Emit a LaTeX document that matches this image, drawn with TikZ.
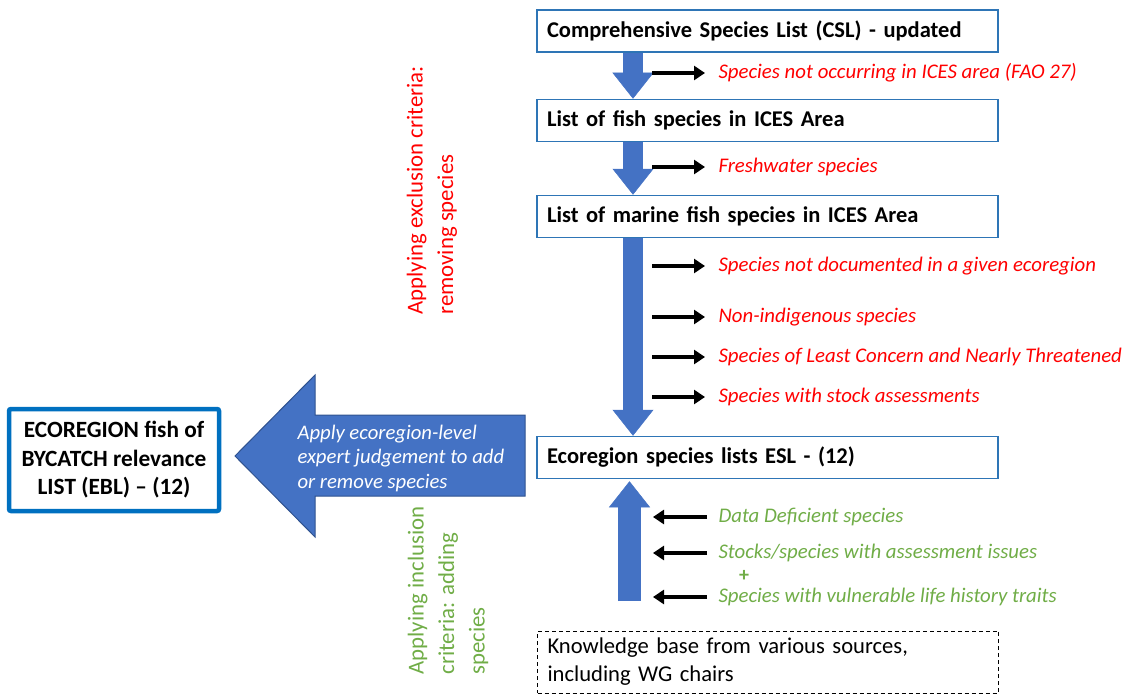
\documentclass[tikz,border=0pt]{standalone}
\usepackage{fontspec}
\setmainfont{Carlito}
\usetikzlibrary{arrows.meta,positioning}

\definecolor{boxblue}{HTML}{2E75B6}
\definecolor{eblblue}{HTML}{0070C0}
\definecolor{flowblue}{HTML}{4472C4}
\definecolor{flowdark}{HTML}{2F528F}
\definecolor{exred}{HTML}{FF0000}
\definecolor{ingreen}{HTML}{70AD47}

\tikzset{
  listbox/.style={draw=boxblue, line width=1.5pt, fill=white, text width=441pt,
    inner xsep=10pt, minimum height=42pt, align=left,
    font=\fontsize{22.5}{26}\selectfont\bfseries},
  eblbox/.style={draw=eblblue, line width=4.5pt, rounded corners=2pt, fill=white,
    minimum width=210pt, minimum height=102pt, align=center,
    font=\fontsize{23.3}{28.5}\selectfont\bfseries},
  kbox/.style={draw=black, line width=0.9pt, dash pattern=on 4pt off 3pt,
    text width=441pt, inner xsep=10pt, minimum height=62pt, align=left,
    font=\fontsize{22.6}{28}\selectfont},
  critred/.style={text=exred, anchor=west, font=\fontsize{20.8}{24}\selectfont\itshape},
  critgreen/.style={text=ingreen, anchor=west, font=\fontsize{20.8}{24}\selectfont\itshape},
  sidelabel/.style={rotate=90, anchor=west, align=left, font=\fontsize{22.8}{30.5}\selectfont},
  flow/.style={line width=20pt, draw=flowblue,
    -{Triangle[length=26pt, width=41pt, line width=0.5pt, fill=flowblue]}},
  pointer/.style={line width=3.5pt, -{Triangle[length=11pt, width=14pt]}},
  bigarrow/.style={fill=flowblue, draw=flowdark, line width=1pt},
}

\begin{document}
\begin{tikzpicture}[x=1pt, y=-1pt]
  \useasboundingbox (0,0) rectangle (1127,698);

  % list boxes
  \node[listbox] (csl) at (767.5,31) {Comprehensive Species List (CSL) - updated};
  \node[listbox] (ices) at (767.5,120.5) {List of fish species in ICES Area};
  \node[listbox] (marine) at (767.5,216.5) {List of marine fish species in ICES Area};
  \node[listbox] (esl) at (767.5,457.5) {Ecoregion species lists ESL - (12)};
  \node[kbox] (know) at (768,662) {Knowledge base from various sources,\\including WG chairs};
  \node[eblbox] (ebl) at (114,460) {ECOREGION fish of\\BYCATCH relevance\\LIST (EBL) -- (12)};

  % flow arrows
  \coordinate (spine) at (633,0);
  \coordinate (base) at (629.5,601);
  \draw[flow] (csl.south -| spine) -- (ices.north -| spine);
  \draw[flow] (ices.south -| spine) -- (marine.north -| spine);
  \draw[flow] (marine.south -| spine) -- (esl.north -| spine);
  \draw[flow, line width=23pt, shorten >=2pt] (base) -- (esl.south -| base);

  % exclusion criteria
  \node[critred] (notices) at (715,73) {Species not occurring in ICES area (FAO 27)};
  \node[critred] (fresh) at (715,167) {Freshwater species};
  \node[critred] (notdoc) at (715,266) {Species not documented in a given ecoregion};
  \node[critred] (nonind) at (715,317) {Non-indigenous species};
  \node[critred] (lc) at (715,357) {Species of Least Concern and Nearly Threatened};
  \node[critred] (stock) at (715,397) {Species with stock assessments};
  \coordinate (e1) at (652,73);
  \coordinate (e2) at (652,167);
  \coordinate (e3) at (652,266);
  \coordinate (e4) at (652,317);
  \coordinate (e5) at (652,357);
  \coordinate (e6) at (652,397);
  \path[pointer, shorten >=10pt] (e1) edge (notices) (e2) edge (fresh) (e3) edge (notdoc)
    (e4) edge (nonind) (e5) edge (lc) (e6) edge (stock);

  % inclusion criteria
  \node[critgreen] (dd) at (715,517) {Data Deficient species};
  \node[critgreen] (issues) at (715,553) {Stocks/species with assessment issues};
  \node[text=ingreen, font=\fontsize{20}{24}\selectfont\bfseries] (plus) at (744,576) {+};
  \node[critgreen] (traits) at (715,597) {Species with vulnerable life history traits};
  \coordinate (i1) at (653,517);
  \coordinate (i2) at (653,553);
  \coordinate (i3) at (653,597);
  \path[pointer, shorten <=8pt] (dd) edge (i1) (issues) edge (i2) (traits) edge (i3);

  % expert judgement
  \filldraw[bigarrow] (525,415) -- (315,415) -- (315,375) -- (235,456) -- (315,537)
    -- (315,496) -- (525,496) -- cycle;
  \node[anchor=west, align=left, text=white, font=\fontsize{20.7}{24.5}\selectfont\itshape]
    (judge) at (294,458) {Apply ecoregion-level\\expert judgement to add\\or remove species};

  % side labels
  \node[sidelabel, text=exred] (excl) at (432,318) {Applying exclusion criteria:\\removing species};
  \node[sidelabel, text=ingreen] (incl) at (448,678) {Applying inclusion\\criteria: adding\\species};
\end{tikzpicture}
\end{document}
